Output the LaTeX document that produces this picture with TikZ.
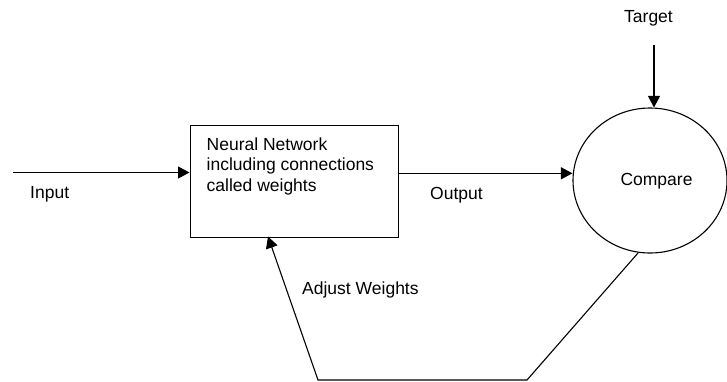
\documentclass[tikz,border=0pt]{standalone}
\usepackage{fontspec}
\setmainfont{Liberation Sans}
\usetikzlibrary{arrows.meta,shapes.geometric}
\begin{document}
\begin{tikzpicture}[x=1pt,y=-1pt,
  every node/.style={font=\fontsize{17.5}{20.5}\selectfont, inner sep=0pt},
  conn/.style={line width=1.1pt},
  arr/.style={conn,-{Triangle[length=11.5pt,width=12pt]}},
  lbl/.style={anchor=base west}]
\useasboundingbox (0,0) rectangle (727,381);
% boxes
\node[draw, line width=1.1pt, rectangle, minimum width=208.5pt, minimum height=111.5pt, anchor=north west] (nn) at (189.5,125) {};
\node[anchor=north west, align=left] (nntext) at (206.5,137.3) {Neural Network\\including connections\\called weights};
\node[draw, line width=1.1pt, ellipse, minimum width=154pt, minimum height=145pt] (cmp) at (650,180.5) {};
\node[anchor=base] (cmptext) at (656.5,185) {Compare};
% labels
\node[lbl] (inlbl) at (30,198) {Input};
\node[lbl] (outlbl) at (430,199) {Output};
\node[anchor=base] (tgtlbl) at (648.5,22.5) {Target};
\node[lbl] (adjlbl) at (302,294) {Adjust Weights};
% coordinates
\coordinate (instart) at (13,172.5);
\coordinate (tgtstart) at (654,45);
\coordinate (fb1) at (638,253);
\coordinate (fb2) at (527,380);
\coordinate (fb3) at (318,380);
\coordinate (fbend) at (268,236.5);
% connectors
\draw[arr] (instart) -- (nn.west |- instart);
\draw[arr] (nn.east |- 0,173.3) -- (cmp.west |- 0,173.3);
\draw[arr] (tgtstart) -- (tgtstart |- cmp.north);
\draw[arr] (fb1) -- (fb2) -- (fb3) -- (fbend);
\end{tikzpicture}
\end{document}
